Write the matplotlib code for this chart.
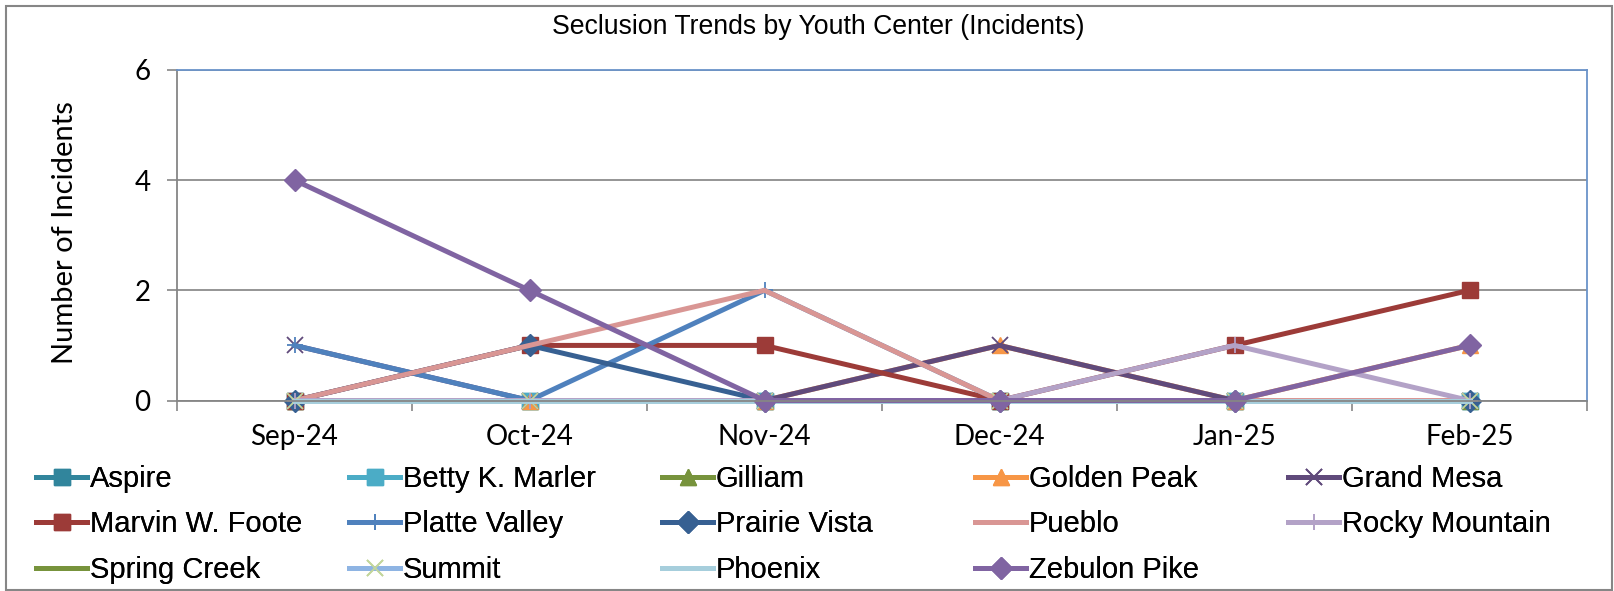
"""Seclusion trends by youth center"""
import matplotlib
matplotlib.use('Agg')
import matplotlib.pyplot as plt
from matplotlib.patches import Rectangle
import numpy as np

months = ['Sep-24', 'Oct-24', 'Nov-24', 'Dec-24', 'Jan-25', 'Feb-25']

centers = ['Aspire', 'Betty K. Marler', 'Gilliam', 'Golden Peak', 'Grand Mesa',
           'Marvin W. Foote', 'Platte Valley', 'Prairie Vista', 'Pueblo', 'Rocky Mountain',
           'Spring Creek', 'Summit', 'Phoenix', 'Zebulon Pike']

aspire = [0, 0, 0, 0, 0, 0]
betty_k_marler = [0, 0, 0, 0, 0, 0]
gilliam = [0, 0, 0, 0, 0, 0]
golden_peak = [0, 0, 0, 1, 0, 1]
grand_mesa = [1, 0, 0, 1, 0, 0]
marvin_w_foote = [0, 1, 1, 0, 1, 2]
platte_valley = [1, 0, 2, 0, 0, 0]
prairie_vista = [0, 1, 0, 0, 0, 0]
pueblo = [0, 1, 2, 0, 0, 0]
rocky_mountain = [0, 0, 0, 0, 1, 0]
spring_creek = [0, 0, 0, 0, 0, 0]
summit = [0, 0, 0, 0, 0, 0]
phoenix = [0, 0, 0, 0, 0, 0]
zebulon_pike = [4, 2, 0, 0, 0, 1]

series = [aspire, betty_k_marler, gilliam, golden_peak, grand_mesa,
          marvin_w_foote, platte_valley, prairie_vista, pueblo, rocky_mountain,
          spring_creek, summit, phoenix, zebulon_pike]

# (line colour, marker, marker colour)
styles = [
    ('#31859C', 's', '#31859C'),
    ('#4BACC6', 's', '#4BACC6'),
    ('#77933C', '^', '#77933C'),
    ('#F79646', '^', '#F79646'),
    ('#604A7B', 'x', '#604A7B'),
    ('#9C3B38', 's', '#9C3B38'),
    ('#4F81BD', '+', '#4F81BD'),
    ('#376092', 'D', '#376092'),
    ('#D99694', None, None),
    ('#B3A2C7', '+', '#B3A2C7'),
    ('#77933C', None, None),
    ('#8EB4E3', 'x', '#C3D69B'),
    ('#A6CEDC', None, None),
    ('#8064A2', 'D', '#8064A2'),
]

W, H = 1614, 591
fig = plt.figure(figsize=(W / 100, H / 100), dpi=100)
ax = fig.add_axes([177 / W, 1 - 400.5 / H, 1410 / W, 330.5 / H])

x = np.arange(len(months))
handles = []
for name, vals, (col, mk, mcol) in zip(centers, series, styles):
    ms = {'s': 11.5, '^': 12, 'D': 11}.get(mk, 12)
    ln, = ax.plot(x, vals, color=col, lw=3.6, marker=mk, ms=ms,
                  mfc=mcol, mec=mcol, mew=1.3 if mk in ('x', '+') else 1,
                  solid_joinstyle='miter', label=name, clip_on=False)
    handles.append(ln)

ax.set_xlim(-0.5, len(months) - 0.5)
ax.set_ylim(0, 6)
ax.set_yticks([0, 2, 4, 6])
ax.set_xticks(np.arange(-0.5, len(months), 1.0))
ax.set_xticklabels([])
ax.set_xticks(x, minor=True)
ax.set_xticklabels(months, minor=True, fontsize=20, family='Lato')
ax.tick_params(axis='x', which='major', length=7, width=1.2, color='#868686', direction='out')
ax.tick_params(axis='x', which='minor', length=0, pad=17)
ax.tick_params(axis='y', length=7, width=1.2, color='#868686', labelsize=20, pad=12)
for lab in ax.get_yticklabels():
    lab.set_family('Lato')

ax.grid(axis='y', color='#8C8C8C', lw=1.3)
ax.set_axisbelow(True)
for s in ('left', 'bottom'):
    ax.spines[s].set_color('#868686')
    ax.spines[s].set_linewidth(1.3)
for s in ('top', 'right'):
    ax.spines[s].set_color('#6A93C9')
    ax.spines[s].set_linewidth(1.3)

fig.text(65 / W, 1 - 233 / H, 'Number of Incidents', rotation=90, ha='center', va='center',
         fontsize=21, family='Lato')
fig.text(818 / W, 1 - 27 / H, 'Seclusion Trends by Youth Center (Incidents)',
         ha='center', va='center', fontsize=19.2, family='Liberation Sans')

# legend: five columns, items read across the rows
col_x = [36, 349, 662, 975, 1288]
for c in range(5):
    lg = fig.legend(handles[c::5], centers[c::5], loc='upper left',
                    bbox_to_anchor=(col_x[c] / W, 1 - 465 / H), frameon=False,
                    borderpad=0, borderaxespad=0, handlelength=1.75, handletextpad=0.1,
                    labelspacing=0.6, prop={'family': 'Liberation Sans', 'size': 21})
    fig.add_artist(lg)

fig.add_artist(Rectangle((6 / W, 1 / H), 1606 / W, 584 / H, transform=fig.transFigure,
                         fill=False, edgecolor='#868686', lw=1.5))

plt.savefig('out.png', dpi=100)
